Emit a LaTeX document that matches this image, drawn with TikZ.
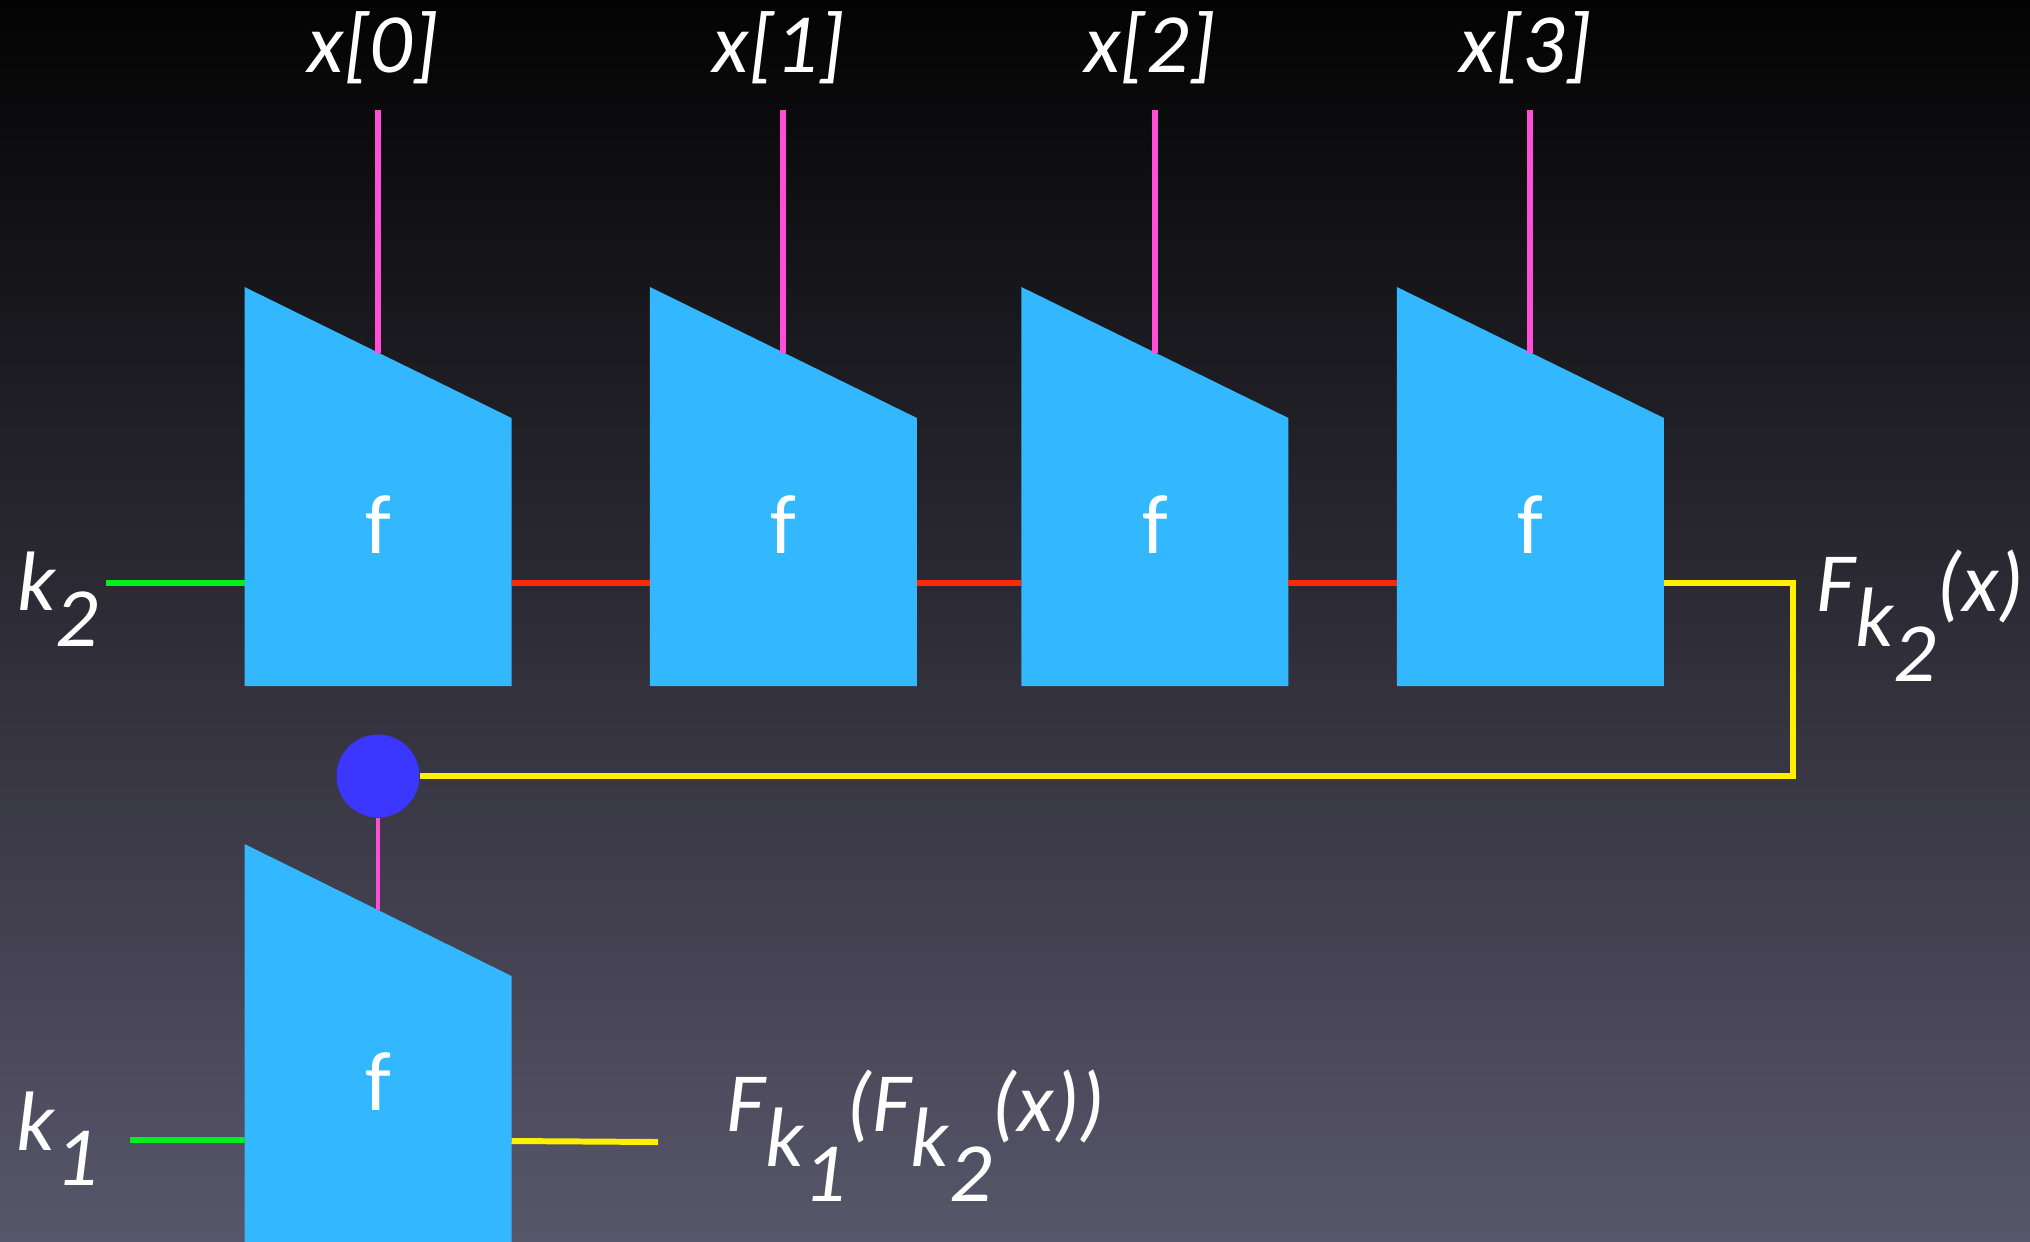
\documentclass[tikz,border=0pt]{standalone}
\usepackage{fontspec}
\setmainfont{Carlito}
\definecolor{BgTop}{rgb}{0.012,0.012,0.012}
\definecolor{BgMid}{rgb}{0.173,0.173,0.212}
\definecolor{BgBot}{rgb}{0.345,0.337,0.416}
\definecolor{BlockBlue}{rgb}{0.200,0.722,1.000}
\definecolor{WirePink}{rgb}{1.000,0.310,0.850}
\definecolor{KeyGreen}{rgb}{0.000,0.940,0.120}
\definecolor{ChainRed}{rgb}{1.000,0.160,0.040}
\definecolor{OutYellow}{rgb}{1.000,0.940,0.000}
\definecolor{JoinBlue}{rgb}{0.235,0.215,1.000}

\tikzset{
  blockfill/.style={fill=BlockBlue},
  flabel/.style={text=white, font=\fontsize{24}{28}\selectfont, inner sep=0pt},
  lbl/.style={text=white, font=\fontsize{24}{28}\selectfont\itshape, inner sep=0pt},
  datawire/.style={WirePink, line width=1.7pt},
  keywire/.style={KeyGreen, line width=1.6pt},
  chainwire/.style={ChainRed, line width=1.7pt},
  outwire/.style={OutYellow, line width=1.7pt},
}
% lowered index, same size as the base text
\newcommand{\low}[1]{\raisebox{-0.42em}{#1}}

\begin{document}
\begin{tikzpicture}

\useasboundingbox (0,0) rectangle (20.30,-12.41);

% ============================================================
% Background: black at the top, grey-violet at the bottom
% ============================================================
\shade[top color=BgTop, middle color=BgMid, bottom color=BgBot] (0,0) rectangle (20.30,-12.41);

% ============================================================
% Top row: four f blocks, one per message block x[i]
% Block corner = top left, width 2.67, slope drop 1.31
% ============================================================
\foreach \i/\xl in {0/2.445,1/6.499,2/10.214,3/13.969}{%
  \begin{scope}[shift={(\xl,-2.87)}]
    \fill[blockfill] (0,0) -- (2.67,-1.31) -- (2.67,-3.99) -- (0,-3.99) -- cycle;
    \node[flabel, anchor=base] (blk\i) at (1.335,-2.66) {f};
    \coordinate (blk\i-in) at (1.335,-0.655);
    \coordinate (blk\i-w) at (0,-2.96);
    \coordinate (blk\i-e) at (2.67,-2.96);
    \coordinate (top\i) at (1.335,1.77);
    % input label x[i]
    \node[lbl, anchor=base] (x\i) at (1.285,2.143) {x[\i]};
  \end{scope}
}

% message inputs
\foreach \i in {0,...,3}{%
  \draw[datawire] (top\i) -- (blk\i-in);
}

% chaining value from block to block
\foreach \i/\j in {0/1,1/2,2/3}{%
  \draw[chainwire] (blk\i-e) -- (blk\j-w);
}

% key k2 into the first block
\node[lbl, anchor=base west] (k2) at (0.167,-6.107) {k\low{2}};
\coordinate (k2end) at (1.06,-5.83);
\draw[keywire] (k2end) -- (blk0-w);

% output of the chain
\node[lbl, anchor=base west] (fk2) at (18.16,-6.11) {F\low{k\low{2}}(x)};

% ============================================================
% Bottom: outer f block keyed with k1
% ============================================================
\begin{scope}[shift={(2.445,-8.44)}]
  \fill[blockfill] (0,0) -- (2.67,-1.32) -- (2.67,-4.10) -- (0,-4.10) -- cycle;
  \node[flabel, anchor=base] (outer) at (1.335,-2.66) {f};
  \coordinate (outer-in) at (1.335,-0.66);
  \coordinate (outer-w) at (0,-2.96);
  \coordinate (outer-e) at (2.67,-2.97);
\end{scope}

% join point: chain output fed back as input of the outer block
\node[circle, fill=JoinBlue, minimum size=0.83cm, inner sep=0pt] (join) at (3.78,-7.76) {};
\coordinate (loopback) at (17.93,-7.0);
\draw[outwire] (blk3-e) -| (loopback) |- (join.east);
\draw[WirePink, line width=1.1pt] (join.south) -- (outer-in);

% key k1
\node[lbl, anchor=base west] (k1) at (0.16,-11.50) {k\low{1}};
\coordinate (k1end) at (1.30,-11.40);
\draw[keywire] (k1end) -- (outer-w);

% final output
\coordinate (outend) at (6.58,-11.42);
\draw[outwire] (outer-e) -- (outend);
\node[lbl, anchor=base west] (fk1k2) at (7.26,-11.31) {F\low{k\low{1}}(F\low{k\low{2}}(x))};

\end{tikzpicture}
\end{document}
